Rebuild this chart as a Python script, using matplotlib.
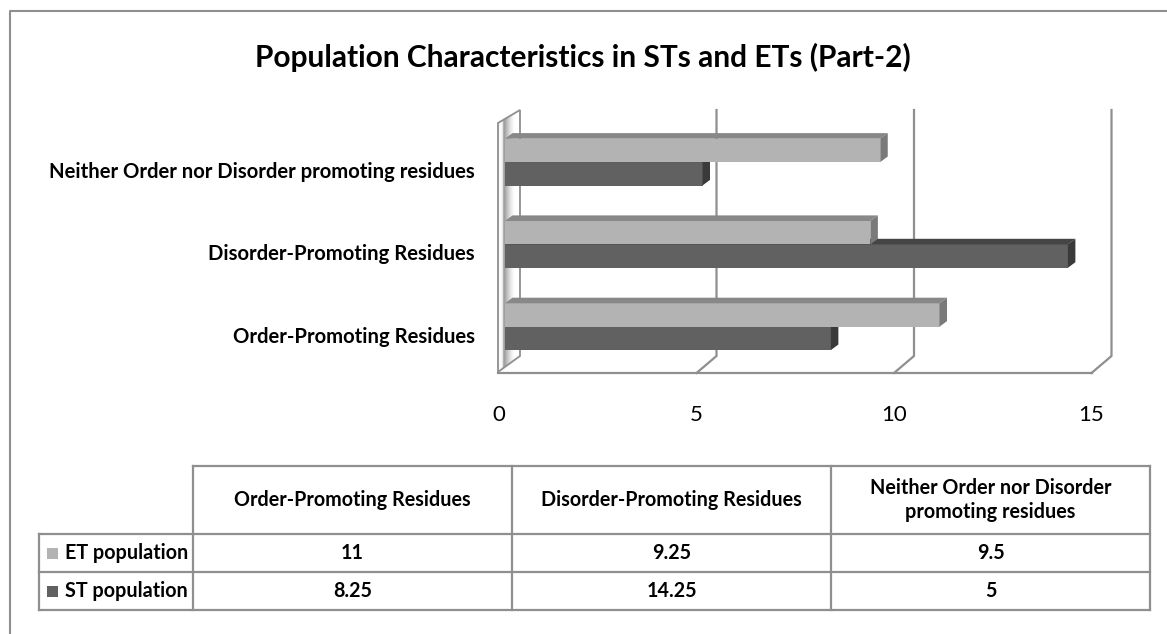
import numpy as np
import matplotlib.pyplot as plt
from matplotlib.patches import Polygon, Rectangle
from matplotlib.lines import Line2D

# data
categories = ["Order-Promoting Residues", "Disorder-Promoting Residues",
              "Neither Order nor Disorder promoting residues"]
table_headers = ["Order-Promoting Residues", "Disorder-Promoting Residues",
                 "Neither Order nor Disorder\npromoting residues"]
series_names = ["ET population", "ST population"]
et_values = [11, 9.25, 9.5]
st_values = [8.25, 14.25, 5]
x_ticks = [0, 5, 10, 15]
title = "Population Characteristics in STs and ETs (Part-2)"

plt.rcParams["font.family"] = ["Lato", "DejaVu Sans"]

W, H = 1167, 634
fig = plt.figure(figsize=(W / 100, H / 100), dpi=100)


def px_axes(x0, y0, x1, y1):
    return fig.add_axes([x0 / W, 1 - y1 / H, (x1 - x0) / W, (y1 - y0) / H])


et_front, et_top, et_side = "#b3b3b3", "#888888", "#7a7a7a"
st_front, st_top, st_side = "#616161", "#454545", "#3a3a3a"
line_c = "#8f8f8f"

# outer frame of the chart object
fig.add_artist(Line2D([10 / W, 10 / W, 1.0], [0, 1 - 11 / H, 1 - 11 / H],
                      transform=fig.transFigure, color=line_c, lw=1.5))

fig.text(583 / W, 1 - 57 / H, title, ha="center", va="center",
         fontsize=21.5, fontweight="bold")

# ---- bar plot area (pseudo 3d) ----
x0_px, ppx = 505, 39.5     # pixel of value 0, pixels per unit
y0_px, ppy = 326.7, 82.3   # pixel of first category, pixels per category
ax = px_axes(480, 100, 1140, 380)
ax.set_xlim((480 - x0_px) / ppx, (1140 - x0_px) / ppx)
ax.set_ylim((y0_px - 380) / ppy, (y0_px - 100) / ppy)
sx, sy = 1 / ppx, 1 / ppy


def ypx(p):
    return (y0_px - p) * sy


back_off = 14 * sx
front_off = -6 * sx
y_back_bot, y_front_bot, y_top = ypx(356), ypx(373), ypx(110)

# left wall slab with shading
wall = Polygon([(front_off - sx, ypx(372)), (front_off - sx, ypx(123)),
                (back_off + sx, y_top), (back_off + sx, y_back_bot)],
               closed=True, facecolor="none", edgecolor=line_c, lw=1.3, zorder=1)
ax.add_patch(wall)
xs = np.linspace(0, 1, 80)
shade = np.interp(xs, [0, 0.18, 0.26, 0.4, 0.75, 1], [0.95, 0.95, 0.5, 0.62, 1, 1])
im = ax.imshow(shade.reshape(1, -1), cmap="Greys_r", vmin=0, vmax=1, aspect="auto",
               extent=(front_off - sx, back_off + sx, y_back_bot - 0.3, y_top + 0.1),
               zorder=0.5, interpolation="bilinear")
im.set_clip_path(wall)

# gridlines on back wall + floor
for v in x_ticks[1:]:
    ax.plot([v + back_off, v + back_off, v + front_off],
            [y_top, y_back_bot, y_front_bot], color=line_c, lw=1.6, zorder=0.6)
ax.plot([front_off - sx, x_ticks[-1] + front_off], [y_front_bot, y_front_bot],
        color=line_c, lw=1.6, zorder=0.6)

# bars
idx = np.arange(len(categories))
h = 23.4 * sy
ddx, ddy = 7.5 * sx, 5.6 * sy


def bar3d(ycen, vals, front, top, side, z):
    ax.barh(ycen, vals, height=h, color=front, zorder=z)
    for yc, v in zip(ycen, vals):
        t, b = yc + h / 2, yc - h / 2
        ax.add_patch(Polygon([(0, t), (ddx, t + ddy), (v + ddx, t + ddy), (v, t)],
                             facecolor=top, edgecolor="none", zorder=z))
        ax.add_patch(Polygon([(v, b), (v, t), (v + ddx, t + ddy), (v + ddx, b + ddy)],
                             facecolor=side, edgecolor="none", zorder=z))


bar3d(idx - h / 2, st_values, st_front, st_top, st_side, 2)
bar3d(idx + h / 2, et_values, et_front, et_top, et_side, 3)

for v in x_ticks:
    ax.text(v + front_off, ypx(415), str(v), ha="center", va="center",
            fontsize=16, clip_on=False)

ax.set_yticks(idx - 8 * sy, categories, fontsize=14.6, fontweight="bold")
ax.tick_params(axis="y", length=0, pad=3.6)
ax.set_xticks([])
for s in ax.spines.values():
    s.set_visible(False)
ax.patch.set_alpha(0)

# ---- data table ----
tx = px_axes(20, 450, 1167, 634)
tx.set_xlim(20, 1167)
tx.set_ylim(634, 450)
tx.axis("off")
col_x = [39, 193, 512, 831, 1150]
row_y = [466, 534, 572, 610]
tkw = dict(color=line_c, lw=1.6)
tx.plot([col_x[1], col_x[-1]], [row_y[0]] * 2, **tkw)
for yy in row_y[1:]:
    tx.plot([col_x[0], col_x[-1]], [yy, yy], **tkw)
tx.plot([col_x[0]] * 2, [row_y[1], row_y[-1]], **tkw)
for xx in col_x[1:]:
    tx.plot([xx, xx], [row_y[0], row_y[-1]], **tkw)

for j, head in enumerate(table_headers):
    cx = (col_x[j + 1] + col_x[j + 2]) / 2
    tx.text(cx, (row_y[0] + row_y[1]) / 2, head, ha="center", va="center",
            fontsize=14.2, fontweight="bold", linespacing=1.25)

for r, (name, vals, col) in enumerate(zip(series_names, [et_values, st_values],
                                          [et_front, st_front])):
    cy = (row_y[r + 1] + row_y[r + 2]) / 2
    tx.add_patch(Rectangle((47, cy - 5.5), 11, 11, facecolor=col, edgecolor="none"))
    tx.text(65, cy, name, ha="left", va="center", fontsize=14.2, fontweight="bold")
    for j, v in enumerate(vals):
        cx = (col_x[j + 1] + col_x[j + 2]) / 2
        tx.text(cx, cy, f"{v:g}", ha="center", va="center", fontsize=14.2,
                fontweight="bold")

fig.savefig("out.png", dpi=100)
